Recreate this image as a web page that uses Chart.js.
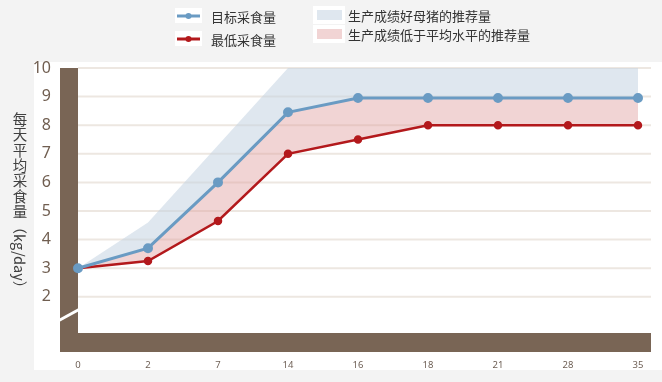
<!DOCTYPE html>
<html>
<head>
<meta charset="utf-8">
<script src="https://cdn.jsdelivr.net/npm/chart.js@4"></script>
<style>
  html, body { margin: 0; padding: 0; background: #f3f3f3; }
  canvas { display: block; }
</style>
</head>
<body>
<canvas id="c" width="662" height="382"></canvas>
<script>
// ---- Data ----
const categories = ['0', '2', '7', '14', '16', '18', '21', '28', '35'];
const targetIntake = [3, 3.7, 6, 8.45, 8.95, 8.95, 8.95, 8.95, 8.95];
const minimumIntake = [3, 3.25, 4.65, 7, 7.5, 8, 8, 8, 8];
const goodSowUpper = [3, 4.6, 7.3, 10, 10, 10, 10, 10, 10];
const yTickLabels = [2, 3, 4, 5, 6, 7, 8, 9, 10];

const seriesNames = ['目标采食量', '最低采食量'];
const areaNames = ['生产成绩好母猪的推荐量', '生产成绩低于平均水平的推荐量'];
const yTitleCJK = '每天平均采食量';
const yTitleUnit = '（kg/day）';

const BROWN = '#796555';
const BLUE = '#6a9bc3';
const RED = '#b3191c';
const BLUE_AREA = 'rgba(196,212,226,0.55)';
const PINK_AREA = 'rgba(225,160,160,0.45)';
const CJK = '"Noto Sans CJK SC", "Noto Sans", sans-serif';
const NUM = '"Noto Sans", "Open Sans", sans-serif';

const decorPlugin = {
  id: 'decor',
  beforeDraw(chart) {
    const ctx = chart.ctx;
    ctx.save();
    ctx.fillStyle = '#f3f3f3';
    ctx.fillRect(0, 0, chart.width, chart.height);
    ctx.fillStyle = '#ffffff';
    ctx.fillRect(34, 62, chart.width - 34, 308);
    ctx.restore();
  },
  beforeDatasetsDraw(chart) {
    const ctx = chart.ctx;
    const a = chart.chartArea;
    const y = chart.scales.y;
    ctx.save();
    // grid lines
    ctx.strokeStyle = '#ede7e1';
    ctx.lineWidth = 2;
    yTickLabels.forEach(v => {
      const py = y.getPixelForValue(v);
      ctx.beginPath();
      ctx.moveTo(a.left, py);
      ctx.lineTo(a.right + 13, py);
      ctx.stroke();
    });
    // brown L-shaped axis frame
    const top = y.getPixelForValue(10);
    ctx.fillStyle = BROWN;
    ctx.fillRect(a.left - 18, top, 18, a.bottom - 2 - top);
    ctx.fillRect(a.left - 18, a.bottom - 21, a.right + 13 - (a.left - 18), 19);
    // axis break
    ctx.strokeStyle = '#ffffff';
    ctx.lineWidth = 3;
    ctx.beginPath();
    ctx.moveTo(a.left - 20, a.bottom - 33);
    ctx.lineTo(a.left + 1, a.bottom - 44.5);
    ctx.stroke();
    ctx.restore();
  },
  afterDraw(chart) {
    const ctx = chart.ctx;
    const ds = chart.data.datasets;
    ctx.save();
    // legend: lines
    const lineRows = [16, 39];
    [0, 1].forEach((i, k) => {
      const cy = lineRows[k];
      ctx.fillStyle = '#ffffff';
      ctx.fillRect(175, cy - 8, 27, 15);
      ctx.strokeStyle = ds[i].borderColor;
      ctx.lineWidth = 3;
      ctx.beginPath();
      ctx.moveTo(177, cy);
      ctx.lineTo(200, cy);
      ctx.stroke();
      ctx.fillStyle = ds[i].borderColor;
      ctx.beginPath();
      ctx.arc(188.5, cy, 3, 0, Math.PI * 2);
      ctx.fill();
      ctx.fillStyle = '#333333';
      ctx.font = '13px ' + CJK;
      ctx.textBaseline = 'middle';
      ctx.textAlign = 'left';
      ctx.fillText(ds[i].label, 211, cy + 1);
    });
    // legend: areas
    const areaRows = [15, 34];
    [2, 3].forEach((i, k) => {
      const cy = areaRows[k];
      ctx.fillStyle = '#ffffff';
      ctx.fillRect(313, cy - 9, 32, 18);
      ctx.fillStyle = ds[i].backgroundColor;
      ctx.fillRect(317, cy - 5, 25, 10);
      ctx.fillStyle = '#333333';
      ctx.font = '13px ' + CJK;
      ctx.textBaseline = 'middle';
      ctx.textAlign = 'left';
      ctx.fillText(ds[i].label, 348, cy + 1);
    });
    // vertical y-axis title
    ctx.fillStyle = '#404040';
    ctx.font = '14.5px ' + CJK;
    ctx.textAlign = 'center';
    ctx.textBaseline = 'middle';
    const cx = 20;
    let cy = 119.5;
    for (const ch of yTitleCJK) {
      ctx.fillText(ch, cx, cy);
      cy += 15.3;
    }
    ctx.save();
    ctx.translate(cx, cy - 7);
    ctx.rotate(Math.PI / 2);
    ctx.textAlign = 'left';
    ctx.fillText(yTitleUnit, 0, 0);
    ctx.restore();
    ctx.restore();
  }
};

new Chart(document.getElementById('c'), {
  type: 'line',
  data: {
    labels: categories,
    datasets: [
      {
        label: seriesNames[0],
        data: targetIntake,
        borderColor: BLUE,
        backgroundColor: BLUE,
        pointBackgroundColor: BLUE,
        pointBorderColor: BLUE,
        borderWidth: 3,
        pointRadius: 3.5,
        fill: false,
        tension: 0,
        order: 0
      },
      {
        label: seriesNames[1],
        data: minimumIntake,
        borderColor: RED,
        backgroundColor: RED,
        pointBackgroundColor: RED,
        pointBorderColor: RED,
        borderWidth: 2.5,
        pointRadius: 3,
        fill: false,
        tension: 0,
        order: 1
      },
      {
        label: areaNames[0],
        data: goodSowUpper,
        borderWidth: 0,
        borderColor: 'rgba(0,0,0,0)',
        backgroundColor: BLUE_AREA,
        pointRadius: 0,
        fill: { target: 0 },
        tension: 0,
        order: 3
      },
      {
        label: areaNames[1],
        data: targetIntake,
        borderWidth: 0,
        borderColor: 'rgba(0,0,0,0)',
        backgroundColor: PINK_AREA,
        pointRadius: 0,
        fill: { target: 1 },
        tension: 0,
        order: 2
      }
    ]
  },
  options: {
    responsive: false,
    animation: false,
    devicePixelRatio: 1,
    layout: { padding: { top: 68, right: 24, left: 0, bottom: 0 } },
    plugins: {
      legend: { display: false },
      tooltip: { enabled: false },
      title: { display: false }
    },
    scales: {
      x: {
        type: 'category',
        offset: false,
        grid: { display: false, drawTicks: false },
        border: { display: false },
        ticks: {
          color: '#6e5f55',
          font: { size: 9.5, family: NUM },
          padding: 6,
          maxRotation: 0,
          autoSkip: false
        },
        afterFit(s) { s.height = 28; }
      },
      y: {
        min: 0,
        max: 10,
        grid: {
          display: true,
          drawOnChartArea: false,
          drawTicks: true,
          tickLength: 27,
          color: 'rgba(0,0,0,0)'
        },
        border: { display: false },
        ticks: {
          stepSize: 1,
          padding: 0,
          color: '#705e50',
          font: { size: 16, family: NUM },
          callback: v => (yTickLabels.includes(v) ? String(v) : '')
        },
        afterFit(s) { s.width = 78; }
      }
    }
  },
  plugins: [decorPlugin]
});
</script>
</body>
</html>
